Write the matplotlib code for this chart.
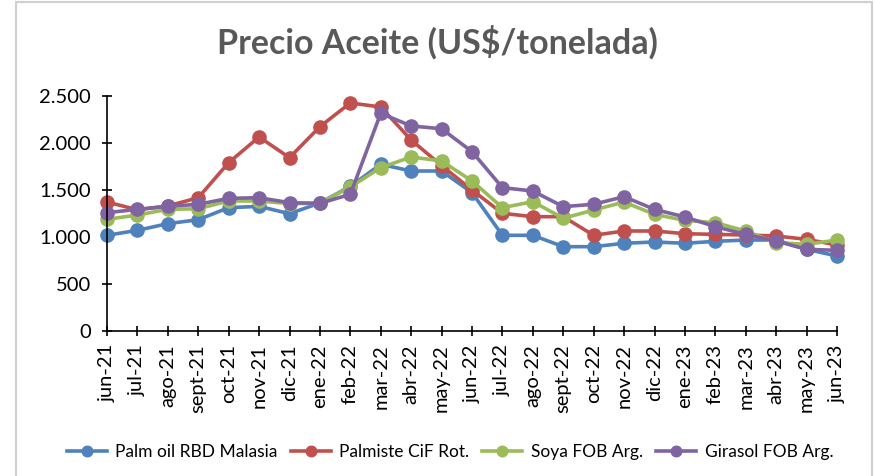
import matplotlib
matplotlib.use("Agg")
import matplotlib.pyplot as plt
from matplotlib import ticker
from matplotlib.patches import Rectangle

months = ["jun-21", "jul-21", "ago-21", "sept-21", "oct-21", "nov-21", "dic-21",
          "ene-22", "feb-22", "mar-22", "abr-22", "may-22", "jun-22", "jul-22",
          "ago-22", "sept-22", "oct-22", "nov-22", "dic-22", "ene-23", "feb-23",
          "mar-23", "abr-23", "may-23", "jun-23"]

palm_oil = [1018, 1071, 1142, 1184, 1312, 1326, 1248, 1362, 1539, 1773, 1702, 1702,
            1472, 1018, 1018, 897, 897, 933, 947, 933, 954, 968, 968, 869, 798]
palmiste = [1372, 1290, 1330, 1418, 1791, 2064, 1844, 2174, 2426, 2383, 2032, 1760,
            1500, 1252, 1216, 1216, 1018, 1064, 1064, 1035, 1028, 1021, 1011, 975, 915]
soya = [1188, 1234, 1294, 1301, 1383, 1383, 1355, 1358, 1532, 1738, 1851, 1809,
        1596, 1312, 1376, 1199, 1287, 1372, 1241, 1177, 1152, 1064, 940, 922, 968]
girasol = [1259, 1294, 1326, 1348, 1411, 1418, 1365, 1358, 1454, 2316, 2181, 2152,
           1908, 1525, 1489, 1323, 1348, 1429, 1294, 1213, 1110, 1028, 957, 869, 858]

series = [
    ("Palm oil RBD Malasia", palm_oil, "#4F81BD"),
    ("Palmiste CiF Rot.", palmiste, "#C0504D"),
    ("Soya FOB Arg.", soya, "#9BBB59"),
    ("Girasol FOB Arg.", girasol, "#8064A2"),
]

plt.rcParams["font.family"] = ["Lato", "DejaVu Sans"]

fig = plt.figure(figsize=(8.75, 4.76), dpi=100)
ax = fig.add_axes([107 / 875, 1 - 331 / 476, 730 / 875, 235 / 476])

x = list(range(len(months)))
for name, vals, colour in series:
    ax.plot(x, vals, color=colour, linewidth=2.6, marker="o", markersize=9.5,
            label=name, clip_on=False)

ax.set_xlim(0, len(months) - 1)
ax.set_ylim(0, 2500)
ax.yaxis.set_major_locator(ticker.MultipleLocator(500))
ax.yaxis.set_major_formatter(
    ticker.FuncFormatter(lambda v, p: f"{int(v):,}".replace(",", ".")))
ax.set_xticks(x)
ax.set_xticklabels(months, rotation=90)

for side in ["top", "right"]:
    ax.spines[side].set_visible(False)
for side in ["left", "bottom"]:
    ax.spines[side].set_linewidth(1.2)
ax.tick_params(direction="inout", length=7, width=1.2, labelsize=14.5)
ax.tick_params(axis="y", pad=8)
ax.tick_params(axis="x", pad=6)

fig.text(0.5, 1 - 42 / 476, "Precio Aceite (US$/tonelada)", ha="center", va="center",
         fontsize=24.5, fontweight="bold", color="#595959")

fig.legend(loc="center", bbox_to_anchor=(450 / 875, 1 - 452 / 476), ncol=4,
           frameon=False, fontsize=12.5, handlelength=2.3, columnspacing=0.75,
           handletextpad=0.5, markerscale=0.8)

fig.patches.append(Rectangle((16 / 875, -0.05), 856 / 875, 1.05 - 2 / 476,
                             transform=fig.transFigure, fill=False,
                             edgecolor="#d0d0d0", linewidth=1.5))

fig.savefig("out.png", dpi=100)
